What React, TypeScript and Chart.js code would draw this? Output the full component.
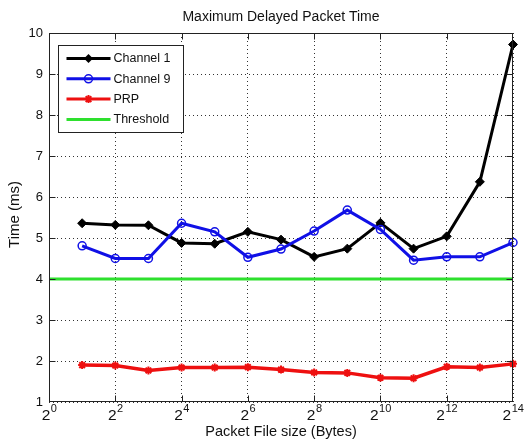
import React, { useEffect, useRef } from 'react';
import { Chart, registerables } from 'chart.js';

Chart.register(...registerables);

// Packet file sizes in bytes (2^1 .. 2^14)
const packetSizes = [2, 4, 8, 16, 32, 64, 128, 256, 512, 1024, 2048, 4096, 8192, 16384];
// Maximum delayed packet time (ms) per series
const channel1 = [5.36, 5.32, 5.31, 4.88, 4.86, 5.15, 4.96, 4.54, 4.74, 5.37, 4.74, 5.04, 6.37, 9.72];
const channel9 = [4.81, 4.5, 4.5, 5.36, 5.15, 4.53, 4.73, 5.17, 5.68, 5.21, 4.46, 4.54, 4.54, 4.89];
const prp = [1.9, 1.89, 1.77, 1.84, 1.84, 1.85, 1.79, 1.72, 1.71, 1.59, 1.58, 1.86, 1.84, 1.93];
const thresholdX = [1, 16384];
const thresholdY = [4, 4];
// Axis ticks
const xTickExponents = [0, 2, 4, 6, 8, 10, 12, 14];
const yMin = 1;
const yMax = 10;

const TITLE = 'Maximum Delayed Packet Time';
const X_TITLE = 'Packet File size (Bytes)';
const Y_TITLE = 'Time (ms)';

const FONT = '"Liberation Sans", Arial, Helvetica, sans-serif';
const BLACK = '#000000';
const BLUE = '#1010e6';
const RED = '#ee1010';
const GREEN = '#2ee02e';

const toPoints = (xs: number[], ys: number[]) => xs.map((x, i) => ({ x, y: ys[i] }));

type MarkerKind = 'diamond' | 'circle' | 'star' | 'none';

function drawMarker(ctx: CanvasRenderingContext2D, kind: MarkerKind, x: number, y: number, color: string) {
  ctx.save();
  ctx.strokeStyle = color;
  ctx.fillStyle = color;
  if (kind === 'diamond') {
    const r = 4.5;
    ctx.beginPath();
    ctx.moveTo(x, y - r);
    ctx.lineTo(x + r, y);
    ctx.lineTo(x, y + r);
    ctx.lineTo(x - r, y);
    ctx.closePath();
    ctx.fill();
  } else if (kind === 'circle') {
    ctx.lineWidth = 1.5;
    ctx.beginPath();
    ctx.arc(x, y, 4, 0, Math.PI * 2);
    ctx.stroke();
  } else if (kind === 'star') {
    const r = 4;
    const d = r * Math.SQRT1_2;
    ctx.lineWidth = 2;
    ctx.beginPath();
    ctx.moveTo(x - r, y);
    ctx.lineTo(x + r, y);
    ctx.moveTo(x, y - r);
    ctx.lineTo(x, y + r);
    ctx.moveTo(x - d, y - d);
    ctx.lineTo(x + d, y + d);
    ctx.moveTo(x - d, y + d);
    ctx.lineTo(x + d, y - d);
    ctx.stroke();
  }
  ctx.restore();
}

const legendItems: { label: string; color: string; marker: MarkerKind }[] = [
  { label: 'Channel 1', color: BLACK, marker: 'diamond' },
  { label: 'Channel 9', color: BLUE, marker: 'circle' },
  { label: 'PRP', color: RED, marker: 'star' },
  { label: 'Threshold', color: GREEN, marker: 'none' },
];

// Box frame, inward tick marks, superscript x labels, titles and the boxed legend
const framePlugin = {
  id: 'matlabFrame',
  afterDraw(chart: any) {
    const { ctx, chartArea: ca, scales } = chart;
    const xs = scales.x;
    const ys = scales.y;
    const L = Math.round(ca.left) + 0.5;
    const R = Math.round(ca.right) - 0.5;
    const T = Math.round(ca.top) + 0.5;
    const B = Math.round(ca.bottom) - 0.5;
    ctx.save();

    // axes box
    ctx.strokeStyle = '#222';
    ctx.lineWidth = 1;
    ctx.strokeRect(L, T, R - L, B - T);

    // inward tick marks
    const tl = 6;
    ctx.beginPath();
    for (let v = yMin + 1; v < yMax; v++) {
      const y = Math.round(ys.getPixelForValue(v)) + 0.5;
      ctx.moveTo(L, y);
      ctx.lineTo(L + tl, y);
      ctx.moveTo(R, y);
      ctx.lineTo(R - tl, y);
    }
    xTickExponents.slice(1, -1).forEach((e) => {
      const x = Math.round(xs.getPixelForValue(2 ** e)) + 0.5;
      ctx.moveTo(x, B);
      ctx.lineTo(x, B - tl);
      ctx.moveTo(x, T);
      ctx.lineTo(x, T + tl);
    });
    ctx.stroke();

    // x tick labels: 2 with superscript exponent
    ctx.fillStyle = '#111';
    ctx.textBaseline = 'alphabetic';
    ctx.textAlign = 'left';
    const baseFont = `15.5px ${FONT}`;
    const expFont = `11px ${FONT}`;
    xTickExponents.forEach((e) => {
      const x = xs.getPixelForValue(2 ** e);
      ctx.font = baseFont;
      const wb = ctx.measureText('2').width;
      ctx.font = expFont;
      const exp = String(e);
      const we = ctx.measureText(exp).width;
      const start = x - (wb + we) / 2;
      ctx.font = baseFont;
      ctx.fillText('2', start, ca.bottom + 18);
      ctx.font = expFont;
      ctx.fillText(exp, start + wb + 0.5, ca.bottom + 10);
    });

    // titles
    ctx.textAlign = 'center';
    ctx.textBaseline = 'middle';
    ctx.font = `14px ${FONT}`;
    ctx.fillText(TITLE, (ca.left + ca.right) / 2, 17.5);
    ctx.font = `14.5px ${FONT}`;
    ctx.fillText(X_TITLE, (ca.left + ca.right) / 2, ca.bottom + 30);
    ctx.save();
    ctx.translate(15, (ca.top + ca.bottom) / 2 - 3);
    ctx.rotate(-Math.PI / 2);
    ctx.font = `15px ${FONT}`;
    ctx.fillText(Y_TITLE, 0, 0);
    ctx.restore();

    // legend
    const lx = Math.round(ca.left) + 9.5;
    const ly = Math.round(ca.top) + 12.5;
    const lw = 125;
    const lh = 87;
    ctx.fillStyle = '#ffffff';
    ctx.fillRect(lx, ly, lw, lh);
    ctx.strokeStyle = '#222';
    ctx.lineWidth = 1;
    ctx.strokeRect(lx, ly, lw, lh);
    ctx.font = `12.5px ${FONT}`;
    ctx.textAlign = 'left';
    ctx.textBaseline = 'middle';
    legendItems.forEach((item, i) => {
      const y = ly + 13 + i * 20.3;
      ctx.strokeStyle = item.color;
      ctx.lineWidth = 3;
      ctx.beginPath();
      ctx.moveTo(lx + 8, y);
      ctx.lineTo(lx + 52, y);
      ctx.stroke();
      drawMarker(ctx, item.marker, lx + 30, y, item.color);
      ctx.fillStyle = '#111';
      ctx.fillText(item.label, lx + 55, y + 0.5);
    });

    ctx.restore();
  },
};

export default function App() {
  const canvasRef = useRef<HTMLCanvasElement | null>(null);

  useEffect(() => {
    const canvas = canvasRef.current;
    if (!canvas) return;
    const chart = new Chart(canvas, {
      type: 'line',
      data: {
        datasets: [
          {
            label: 'Channel 1',
            data: toPoints(packetSizes, channel1),
            borderColor: BLACK,
            backgroundColor: BLACK,
            borderWidth: 3,
            pointStyle: 'rectRot',
            pointRadius: 4.5,
            pointBorderWidth: 1,
            pointBackgroundColor: BLACK,
            pointBorderColor: BLACK,
            order: 4,
            clip: false,
          },
          {
            label: 'Channel 9',
            data: toPoints(packetSizes, channel9),
            borderColor: BLUE,
            backgroundColor: 'rgba(0,0,0,0)',
            borderWidth: 3,
            pointStyle: 'circle',
            pointRadius: 4,
            pointBorderWidth: 1.5,
            pointBackgroundColor: 'rgba(0,0,0,0)',
            pointBorderColor: BLUE,
            order: 3,
            clip: false,
          },
          {
            label: 'PRP',
            data: toPoints(packetSizes, prp),
            borderColor: RED,
            backgroundColor: RED,
            borderWidth: 3.5,
            pointStyle: 'star',
            pointRadius: 4,
            pointBorderWidth: 2,
            pointBorderColor: RED,
            order: 2,
            clip: false,
          },
          {
            label: 'Threshold',
            data: toPoints(thresholdX, thresholdY),
            borderColor: GREEN,
            backgroundColor: GREEN,
            borderWidth: 3,
            pointRadius: 0,
            order: 1,
            clip: false,
          },
        ],
      },
      options: {
        responsive: false,
        animation: false,
        events: [],
        layout: { padding: { top: 33, right: 12, left: 0, bottom: 0 } },
        plugins: {
          legend: { display: false },
          title: { display: false },
          tooltip: { enabled: false },
        },
        scales: {
          x: {
            type: 'logarithmic',
            min: 1,
            max: 16384,
            afterBuildTicks: (scale: any) => {
              scale.ticks = xTickExponents.map((e) => ({ value: 2 ** e }));
            },
            afterFit: (scale: any) => {
              scale.height = 39;
            },
            ticks: { autoSkip: false, callback: () => '' },
            grid: { color: '#333', lineWidth: 1, drawTicks: false },
            border: { display: false, dash: [1, 3] },
          },
          y: {
            type: 'linear',
            min: yMin,
            max: yMax,
            afterFit: (scale: any) => {
              scale.width = 49;
            },
            ticks: {
              stepSize: 1,
              padding: 6,
              color: '#111',
              font: { family: FONT, size: 13 },
            },
            grid: { color: '#333', lineWidth: 1, drawTicks: false },
            border: { display: false, dash: [1, 3] },
          },
        },
      },
      plugins: [framePlugin],
    });
    return () => chart.destroy();
  }, []);

  return (
    <div style={{ position: 'absolute', left: 0, top: 0, width: 525, height: 441, background: '#fff' }}>
      <canvas ref={canvasRef} width={525} height={441} style={{ display: 'block' }} />
    </div>
  );
}
